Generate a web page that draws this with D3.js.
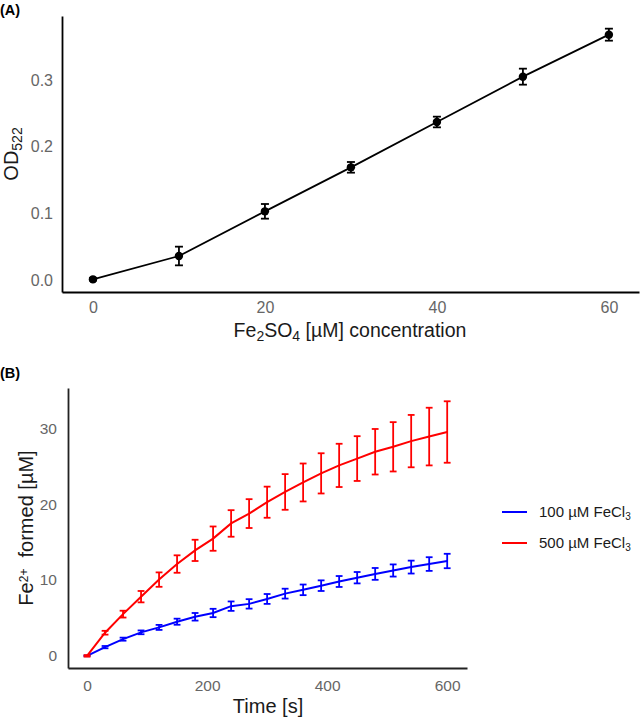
<!DOCTYPE html>
<html>
<head>
<meta charset="utf-8">
<script src="https://cdn.jsdelivr.net/npm/d3@7"></script>
<style>
  body { margin: 0; background: #fff; }
  text { font-family: "Liberation Sans", Arial, sans-serif; }
</style>
</head>
<body>
<script>
// Panel A: calibration
const concA = [0, 10, 20, 30, 40, 50, 60];
const odMean = [0.001, 0.036, 0.103, 0.169, 0.237, 0.305, 0.368];
const odErr = [0.002, 0.014, 0.011, 0.008, 0.008, 0.012, 0.009];
const ticksAx = [0, 20, 40, 60];
const ticksAy = [0.0, 0.1, 0.2, 0.3];

// Panel B: Fe2+ formation over time
const timeB = [0, 30, 60, 90, 120, 150, 180, 210, 240, 270, 300, 330, 360, 390, 420, 450, 480, 510, 540, 570, 600];
const fe100 = [0, 1.15, 2.2, 3.1, 3.75, 4.5, 5.15, 5.65, 6.55, 6.85, 7.5, 8.2, 8.7, 9.25, 9.8, 10.3, 10.8, 11.25, 11.7, 12.1, 12.5];
const fe100Err = [0.05, 0.15, 0.2, 0.25, 0.33, 0.4, 0.5, 0.55, 0.62, 0.62, 0.65, 0.65, 0.7, 0.7, 0.72, 0.75, 0.78, 0.8, 0.85, 0.9, 0.95];
const fe500 = [0, 3.05, 5.5, 7.8, 10.05, 12.1, 13.9, 15.45, 17.45, 18.75, 20.25, 21.6, 22.85, 24.05, 25.1, 26.0, 26.9, 27.55, 28.3, 28.9, 29.5];
const fe500Err = [0.1, 0.25, 0.45, 0.75, 0.95, 1.15, 1.4, 1.6, 1.75, 1.9, 2.05, 2.35, 2.5, 2.65, 2.85, 2.95, 3.0, 3.25, 3.45, 3.8, 4.05];
const seriesNames = ["100 µM FeCl", "500 µM FeCl"];
const seriesColors = ["#0000ff", "#ff0000"];
const ticksBx = [0, 200, 400, 600];
const ticksBy = [0, 10, 20, 30];

const svg = d3.select("body").append("svg")
  .attr("width", 644)
  .attr("height", 721);

// ---------- Panel A ----------
const xA = d3.scaleLinear().domain([-3.6, 63.5]).range([62, 639]);
const yA = d3.scaleLinear().domain([-0.018, 0.396]).range([292, 16]);

svg.append("text")
  .attr("x", 0).attr("y", 15)
  .text("(A)")
  .style("font-size", "14.5px")
  .style("font-weight", "bold");

const axA = svg.append("g")
  .attr("transform", "translate(0,292)")
  .call(d3.axisBottom(xA).tickValues(ticksAx).tickSize(0).tickSizeOuter(0).tickPadding(10));
const ayA = svg.append("g")
  .attr("transform", "translate(62,0)")
  .call(d3.axisLeft(yA).tickValues(ticksAy).tickFormat(d3.format(".1f")).tickSize(0).tickSizeOuter(0).tickPadding(9));

[axA, ayA].forEach(g => {
  g.select(".domain").attr("stroke", "#000").attr("stroke-width", 1.8);
  g.selectAll("text").style("font-size", "16px").attr("fill", "#666")
    .style("font-family", "Liberation Sans, Arial, sans-serif");
});

const dataA = concA.map((c, i) => ({x: c, y: odMean[i], e: odErr[i]}));

svg.append("path")
  .datum(dataA)
  .attr("fill", "none")
  .attr("stroke", "#000")
  .attr("stroke-width", 1.8)
  .attr("d", d3.line().x(d => xA(d.x)).y(d => yA(d.y)));

const errA = svg.append("g").attr("stroke", "#000").attr("stroke-width", 1.8);
dataA.forEach(d => {
  errA.append("line")
    .attr("x1", xA(d.x)).attr("x2", xA(d.x))
    .attr("y1", yA(d.y - d.e)).attr("y2", yA(d.y + d.e));
  [d.y - d.e, d.y + d.e].forEach(v => {
    errA.append("line")
      .attr("x1", xA(d.x) - 4).attr("x2", xA(d.x) + 4)
      .attr("y1", yA(v)).attr("y2", yA(v));
  });
});

svg.selectAll("circle.ptA")
  .data(dataA)
  .enter()
  .append("circle")
  .attr("class", "ptA")
  .attr("cx", d => xA(d.x))
  .attr("cy", d => yA(d.y))
  .attr("r", 4.2)
  .attr("fill", "#000");

const titleAx = svg.append("text")
  .attr("x", 350).attr("y", 337)
  .attr("text-anchor", "middle")
  .style("font-size", "19.5px")
  .attr("fill", "#1a1a1a");
titleAx.append("tspan").text("Fe");
titleAx.append("tspan").text("2").attr("baseline-shift", "-25%").style("font-size", "14px");
titleAx.append("tspan").text("SO");
titleAx.append("tspan").text("4").attr("baseline-shift", "-25%").style("font-size", "14px");
titleAx.append("tspan").text(" [µM] concentration");

const titleAy = svg.append("text")
  .attr("transform", "translate(18,154) rotate(-90)")
  .attr("text-anchor", "middle")
  .style("font-size", "20px")
  .attr("fill", "#1a1a1a");
titleAy.append("tspan").text("OD");
titleAy.append("tspan").text("522").attr("baseline-shift", "-25%").style("font-size", "14px");

// ---------- Panel B ----------
const xB = d3.scaleLinear().domain([-31.7, 633]).range([68, 467]);
const yB = d3.scaleLinear().domain([-1.6, 35.3]).range([668, 388]);

svg.append("text")
  .attr("x", 0).attr("y", 378)
  .text("(B)")
  .style("font-size", "14.5px")
  .style("font-weight", "bold");

const axB = svg.append("g")
  .attr("transform", "translate(0,668)")
  .call(d3.axisBottom(xB).tickValues(ticksBx).tickSize(0).tickSizeOuter(0).tickPadding(12));
const ayB = svg.append("g")
  .attr("transform", "translate(68,0)")
  .call(d3.axisLeft(yB).tickValues(ticksBy).tickSize(0).tickSizeOuter(0).tickPadding(11));

[axB, ayB].forEach(g => {
  g.select(".domain").attr("stroke", "#222").attr("stroke-width", 1.8);
  g.selectAll("text").style("font-size", "15.5px").attr("fill", "#666")
    .style("font-family", "Liberation Sans, Arial, sans-serif");
});

const seriesB = [
  timeB.map((t, i) => ({x: t, y: fe100[i], e: fe100Err[i]})),
  timeB.map((t, i) => ({x: t, y: fe500[i], e: fe500Err[i]}))
];

seriesB.forEach((s, k) => {
  const col = seriesColors[k];
  const g = svg.append("g").attr("stroke", col);
  s.forEach(d => {
    g.append("line")
      .attr("stroke-width", 1.8)
      .attr("x1", xB(d.x)).attr("x2", xB(d.x))
      .attr("y1", yB(d.y - d.e)).attr("y2", yB(d.y + d.e));
    [d.y - d.e, d.y + d.e].forEach(v => {
      g.append("line")
        .attr("stroke-width", 1.8)
        .attr("x1", xB(d.x) - 3.4).attr("x2", xB(d.x) + 3.4)
        .attr("y1", yB(v)).attr("y2", yB(v));
    });
  });
  svg.append("path")
    .datum(s)
    .attr("fill", "none")
    .attr("stroke", col)
    .attr("stroke-width", 2)
    .attr("d", d3.line().x(d => xB(d.x)).y(d => yB(d.y)));
});

const titleBx = svg.append("text")
  .attr("x", 268).attr("y", 713)
  .attr("text-anchor", "middle")
  .style("font-size", "20px")
  .attr("fill", "#1a1a1a")
  .text("Time [s]");

const titleBy = svg.append("text")
  .attr("transform", "translate(33,528) rotate(-90)")
  .attr("text-anchor", "middle")
  .style("font-size", "20px")
  .attr("fill", "#1a1a1a");
titleBy.append("tspan").text("Fe");
titleBy.append("tspan").text("2+").attr("baseline-shift", "45%").style("font-size", "12px");
titleBy.append("tspan").text("\u00a0\u00a0formed [µM]");

// legend
const legend = svg.append("g");
seriesNames.forEach((name, k) => {
  const yy = 512 + k * 31;
  legend.append("line")
    .attr("x1", 502).attr("x2", 527)
    .attr("y1", yy).attr("y2", yy)
    .attr("stroke", seriesColors[k])
    .attr("stroke-width", 2);
  const t = legend.append("text")
    .attr("x", 539).attr("y", yy + 5)
    .style("font-size", "15px")
    .attr("fill", "#1a1a1a");
  t.append("tspan").text(name);
  t.append("tspan").text("3").attr("baseline-shift", "-25%").style("font-size", "10px");
});
</script>
</body>
</html>
